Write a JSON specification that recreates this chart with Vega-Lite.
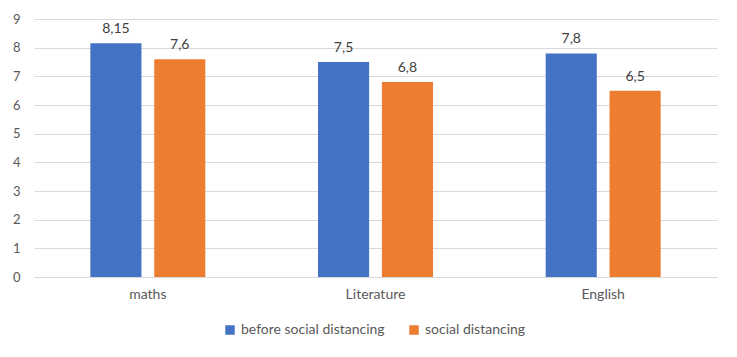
{
  "$schema": "https://vega.github.io/schema/vega-lite/v6.json",
  "width": 683,
  "height": 258,
  "autosize": {"type": "none"},
  "padding": {"left": 34, "top": 19, "right": 20, "bottom": 80},
  "background": "white",
  "config": {
    "locale": {"number": {"decimal": ",", "thousands": ".", "grouping": [3], "currency": ["", " €"]}},
    "view": {"stroke": null},
    "font": "Lato",
    "text": {"font": "Lato"}
  },
  "data": {
    "values": [
      {"subject": "maths", "series": "before social distancing", "value": 8.15},
      {"subject": "maths", "series": "social distancing", "value": 7.6},
      {"subject": "Literature", "series": "before social distancing", "value": 7.5},
      {"subject": "Literature", "series": "social distancing", "value": 6.8},
      {"subject": "English", "series": "before social distancing", "value": 7.8},
      {"subject": "English", "series": "social distancing", "value": 6.5}
    ]
  },
  "encoding": {
    "x": {
      "field": "subject", "type": "nominal", "sort": ["maths", "Literature", "English"],
      "scale": {"paddingInner": 0.495, "paddingOuter": 0.2475},
      "axis": {"title": null, "labelAngle": 0, "ticks": false, "domainColor": "#d9d9d9", "domainWidth": 1, "labelColor": "#595959", "labelFontSize": 14, "labelPadding": 10, "labelFont": "Lato"}
    },
    "xOffset": {"field": "series", "type": "nominal", "scale": {"paddingInner": 0.2, "paddingOuter": 0}},
    "y": {
      "field": "value", "type": "quantitative",
      "scale": {"domain": [0, 9], "nice": false},
      "axis": {"title": null, "values": [0,1,2,3,4,5,6,7,8,9], "labelOverlap": false, "ticks": false, "domain": false, "gridColor": "#d9d9d9", "gridWidth": 1, "labelColor": "#595959", "labelFontSize": 13, "labelPadding": 14, "labelFont": "Lato"}
    }
  },
  "layer": [
    {
      "mark": {"type": "bar"},
      "encoding": {
        "color": {
          "field": "series", "type": "nominal",
          "scale": {"domain": ["before social distancing", "social distancing"], "range": ["#4472C4", "#ED7D31"]},
          "legend": {"title": null, "orient": "none", "legendX": 189, "legendY": 304, "direction": "horizontal", "symbolType": "square", "symbolSize": 90, "symbolStrokeWidth": 0, "symbolOffset": 0, "labelOffset": 4, "labelColor": "#595959", "labelFontSize": 14, "labelFont": "Lato", "columnPadding": 22}
        }
      }
    },
    {
      "mark": {"type": "text", "baseline": "bottom", "dy": -7, "fontSize": 14, "color": "#404040", "font": "Lato"},
      "encoding": {
        "text": {"field": "value", "type": "quantitative", "format": ".3~g"}
      }
    }
  ]
}
